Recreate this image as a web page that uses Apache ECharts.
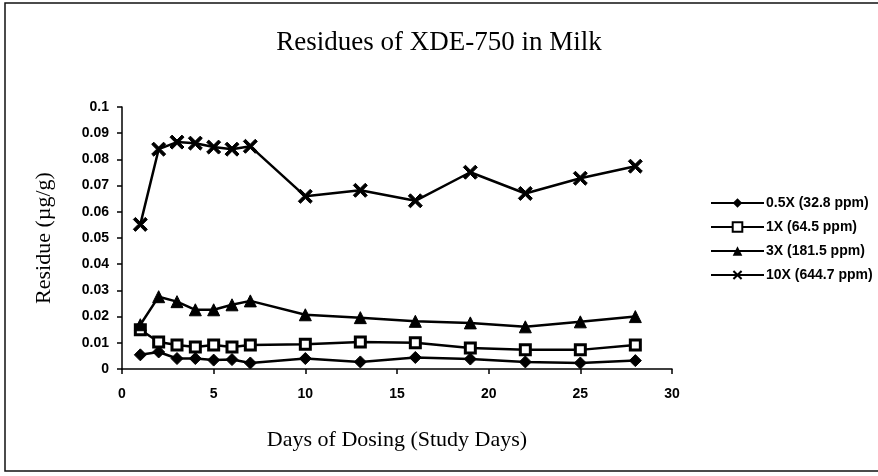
<!DOCTYPE html>
<html>
<head>
<meta charset="utf-8">
<script src="https://cdn.jsdelivr.net/npm/echarts@6/dist/echarts.min.js"></script>
<style>
  html, body { margin: 0; padding: 0; background: #fff; }
  #chart { width: 878px; height: 476px; }
</style>
</head>
<body>
<div id="chart"></div>
<script>
// study days and residues (ug/g)
const days = [1, 2, 3, 4, 5, 6, 7, 10, 13, 16, 19, 22, 25, 28];
const dose05 = [0.0054, 0.0065, 0.0040, 0.0040, 0.0034, 0.0036, 0.0023, 0.0040, 0.0027, 0.0044, 0.0038, 0.0027, 0.0023, 0.0032];
const dose1 = [0.0150, 0.0103, 0.0092, 0.0084, 0.0092, 0.0084, 0.0092, 0.0094, 0.0103, 0.0100, 0.0080, 0.0073, 0.0073, 0.0092];
const dose3 = [0.0169, 0.0276, 0.0257, 0.0226, 0.0226, 0.0245, 0.0260, 0.0207, 0.0196, 0.0182, 0.0176, 0.0161, 0.0180, 0.0200];
const dose10 = [0.0552, 0.0839, 0.0866, 0.0862, 0.0847, 0.0839, 0.0850, 0.0659, 0.0682, 0.0642, 0.0751, 0.0670, 0.0728, 0.0774];
const seriesNames = ['0.5X (32.8 ppm)', '1X (64.5 ppm)', '3X (181.5 ppm)', '10X (644.7 ppm)'];

const cross = 'path://M0,1.5L1.5,0L5,3.5L8.5,0L10,1.5L6.5,5L10,8.5L8.5,10L5,6.5L1.5,10L0,8.5L3.5,5Z';

function pairs(vals) {
  return days.map((d, i) => [d, vals[i]]);
}

const el = document.getElementById('chart');
const chart = echarts.init(el);

const line = { color: '#000', width: 2.5 };
const serif = 'Liberation Serif';
const sans = 'Liberation Sans';

const options = {
  animation: false,
  backgroundColor: '#fff',
  // frame round the whole picture
  graphic: [{
    type: 'rect',
    shape: { x: 5, y: 3, width: 885, height: 468 },
    style: { fill: 'none', stroke: '#111', lineWidth: 1.5 },
    silent: true
  }],
  title: {
    text: 'Residues of XDE-750 in Milk',
    left: 'center',
    top: 24,
    textStyle: { fontFamily: serif, fontWeight: 'normal', fontSize: 27, color: '#000' }
  },
  legend: {
    orient: 'vertical',
    left: 705,
    top: 191,
    itemWidth: 53,
    itemHeight: 12,
    itemGap: 10,
    data: seriesNames,
    textStyle: { fontFamily: sans, fontWeight: 'bold', fontSize: 14, color: '#000', padding: [0, 0, 0, -3] }
  },
  grid: { left: 122, right: 206, top: 107, bottom: 107 },
  xAxis: {
    type: 'value',
    min: 0, max: 30, interval: 5,
    name: 'Days of Dosing (Study Days)',
    nameLocation: 'middle',
    nameGap: 60,
    nameTextStyle: { fontFamily: serif, fontSize: 22, color: '#000' },
    axisLine: { lineStyle: { color: '#000', width: 1.5 } },
    axisTick: { length: 5, lineStyle: { color: '#000', width: 1.5 } },
    axisLabel: { fontFamily: sans, fontWeight: 'bold', fontSize: 14, color: '#000', margin: 18 },
    splitLine: { show: false }
  },
  yAxis: {
    type: 'value',
    min: 0, max: 0.1, interval: 0.01,
    name: 'Residue (µg/g)',
    nameLocation: 'middle',
    nameGap: 67,
    nameTextStyle: { fontFamily: serif, fontSize: 22, color: '#000' },
    axisLine: { show: true, lineStyle: { color: '#000', width: 1.5 } },
    axisTick: { show: true, length: 5, lineStyle: { color: '#000', width: 1.5 } },
    axisLabel: {
      fontFamily: sans, fontWeight: 'bold', fontSize: 14, color: '#000', margin: 13,
      formatter: v => String(parseFloat(v.toFixed(2)))
    },
    splitLine: { show: false }
  },
  series: [
    {
      name: seriesNames[0], type: 'line', data: pairs(dose05),
      symbol: 'diamond', symbolSize: 12, lineStyle: line,
      itemStyle: { color: '#000', borderColor: '#000' }
    },
    {
      name: seriesNames[1], type: 'line', data: pairs(dose1),
      symbol: 'rect', symbolSize: 10, lineStyle: line,
      itemStyle: { color: '#fff', borderColor: '#000', borderWidth: 3 }
    },
    {
      name: seriesNames[2], type: 'line', data: pairs(dose3),
      symbol: 'triangle', symbolSize: 12, lineStyle: line,
      itemStyle: { color: '#000', borderColor: '#000' }
    },
    {
      name: seriesNames[3], type: 'line', data: pairs(dose10),
      symbol: cross, symbolSize: 14, lineStyle: line,
      itemStyle: { color: '#000', borderColor: '#000' }
    }
  ]
};

chart.setOption(options);
window.onresize = () => chart.resize();
</script>
</body>
</html>
